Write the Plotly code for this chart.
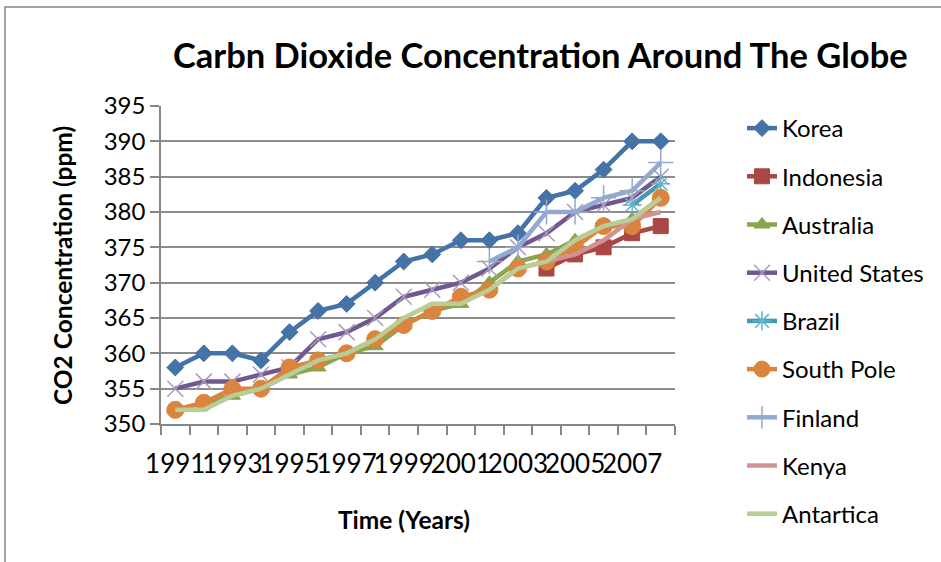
import plotly.graph_objects as go

# ---- data ----
years = list(range(1991, 2009))
korea = [358, 360, 360, 359, 363, 366, 367, 370, 373, 374, 376, 376, 377, 382, 383, 386, 390, 390]
indonesia = [None] * 13 + [372, 374, 375, 377, 378]
australia = [352, 353, 354, 355, 357, 358, 360, 361, 364, 366, 367, 370, 373, 374, 376, 378, 379, 382]
united_states = [355, 356, 356, 357, 358, 362, 363, 365, 368, 369, 370, 372, 375, 377, 380, 381, 382, 385]
brazil = [None] * 16 + [381, 384]
south_pole = [352, 353, 355, 355, 358, 359, 360, 362, 364, 366, 368, 369, 372, 373, 375, 378, 378, 382]
finland = [None] * 11 + [373, 375, 380, 380, 382, 383, 387]
kenya = [None] * 13 + [373, 374, 376, 379, 380]
antartica = [352, 352, 354, 355, 357, 359, 360, 362, 365, 367, 367, 369, 372, 373, 376, 378, 379, 382]

x_tick_years = [1991, 1993, 1995, 1997, 1999, 2001, 2003, 2005, 2007]
x_tick_labels = [str(y) for y in x_tick_years]
y_ticks = [350, 355, 360, 365, 370, 375, 380, 385, 390, 395]

series = [
    ("Korea", korea, "#4572A7", "diamond", 13, "#4572A7", 1),
    ("Indonesia", indonesia, "#AA4643", "square", 15, "#AA4643", 1),
    ("Australia", australia, "#89A54E", "triangle-up", 14, "#89A54E", 1),
    ("United States", united_states, "#71588F", "x-thin", 16, "#A99BBD", 1.5),
    ("Brazil", brazil, "#4198AF", "asterisk", 16, "#5FB4CB", 1.5),
    ("South Pole", south_pole, "#DB843D", "circle", 17, "#DB843D", 1),
    ("Finland", finland, "#93A9CF", "cross-thin", 18, "#93A9CF", 1.5),
    ("Kenya", kenya, "#D19392", None, 0, "#D19392", 0),
    ("Antartica", antartica, "#B9CD96", None, 0, "#B9CD96", 0),
]

FONT = "Lato"
fig = go.Figure()
for i, (name, vals, col, sym, size, mcol, mlw) in enumerate(series):
    if sym is None:
        mode = "lines"
        marker = None
    else:
        mode = "lines+markers"
        marker = dict(symbol=sym, size=size, color=mcol,
                      line=dict(color=mcol, width=mlw))
    fig.add_trace(go.Scatter(
        x=years, y=vals, name=name, mode=mode,
        line=dict(color=col, width=4.5),
        marker=marker, legendgroup=f"g{i}", connectgaps=False,
    ))

W, H = 941, 562
L, R, T, B = 161, 675, 106, 424


def px(xp):
    return (xp - L) / (R - L)


def py(yp):
    return (B - yp) / (B - T)


fig.update_layout(
    width=W, height=H,
    margin=dict(l=L, r=W - R, t=T, b=H - B),
    paper_bgcolor="white", plot_bgcolor="white",
    font=dict(family=FONT, color="#000000"),
    showlegend=True,
    legend=dict(x=px(742), y=py(106), xanchor="left", yanchor="top",
                font=dict(size=24, family=FONT, color="#000000"),
                tracegroupgap=14, bgcolor="rgba(0,0,0,0)", maxheight=540),
    xaxis=dict(
        range=[1990.5, 2008.5], tickmode="array", tickvals=x_tick_years,
        ticktext=x_tick_labels, ticks="", showgrid=False, tickangle=0,
        showline=True, linecolor="#868686", linewidth=1.5,
        tickfont=dict(size=26, family=FONT, color="#000000"),
        ticklabelstandoff=16,
        zeroline=False,
        minor=dict(tickvals=[y - 0.5 for y in years] + [2008.5], ticks="outside",
                   ticklen=9, tickcolor="#868686", tickwidth=1.5, showgrid=False),
    ),
    yaxis=dict(
        range=[350, 395], tickmode="array", tickvals=y_ticks,
        ticks="outside", ticklen=9, tickcolor="#868686", tickwidth=1.5,
        showgrid=True, gridcolor="#8C8C8C", gridwidth=1.5,
        showline=True, linecolor="#868686", linewidth=1.5,
        tickfont=dict(size=24, family=FONT, color="#000000"),
        zeroline=False,
    ),
    shapes=[dict(type="rect", xref="paper", yref="paper",
                 x0=px(5), x1=px(960), y0=py(580), y1=py(7),
                 line=dict(color="#868686", width=1.5), layer="below")],
    annotations=[
        dict(text="<b>Carbn Dioxide Concentration Around The Globe</b>",
             xref="paper", yref="paper", x=px(540), y=py(55),
             xanchor="center", yanchor="middle", showarrow=False,
             font=dict(size=34.5, family=FONT, color="#000000")),
        dict(text="<b>CO2 Concentration (ppm)</b>",
             xref="paper", yref="paper", x=px(62), y=py(266), textangle=-90,
             xanchor="center", yanchor="middle", showarrow=False,
             font=dict(size=24.5, family=FONT, color="#000000")),
        dict(text="<b>Time (Years)</b>",
             xref="paper", yref="paper", x=px(404), y=py(519),
             xanchor="center", yanchor="middle", showarrow=False,
             font=dict(size=24.5, family=FONT, color="#000000")),
    ],
)

fig.write_html("out.html")
